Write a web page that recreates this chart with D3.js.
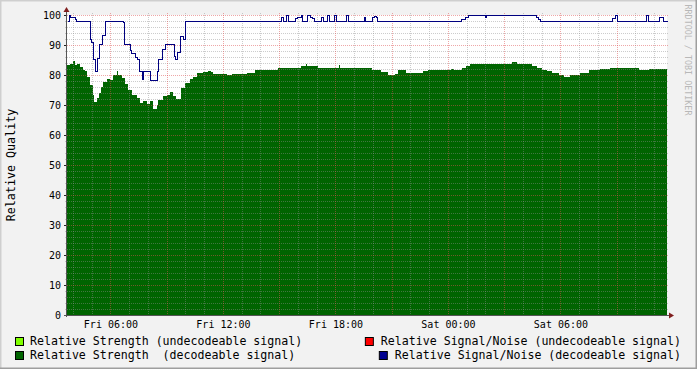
<!DOCTYPE html>
<html>
<head>
<meta charset="utf-8">
<script src="https://cdn.jsdelivr.net/npm/d3@7"></script>
<style>
body { margin: 0; background: #f2f2f2; }
svg { display: block; }
text { font-family: "DejaVu Sans Mono", monospace; }
</style>
</head>
<body>
<script>
// time window shown on the graph (32h)
var startTime = 'Fri 03:41'
var endTime = 'Sat 11:41'

// Relative Strength (decodeable signal), step values
var strengthTimes = ['Fri 03:41', 'Fri 03:51', 'Fri 04:00', 'Fri 04:07', 'Fri 04:13', 'Fri 04:23', 'Fri 04:32',
    'Fri 04:39', 'Fri 04:45', 'Fri 04:55', 'Fri 05:04', 'Fri 05:07', 'Fri 05:17', 'Fri 05:23', 'Fri 05:30',
    'Fri 05:36', 'Fri 05:49', 'Fri 05:59', 'Fri 06:08', 'Fri 06:21', 'Fri 06:24', 'Fri 06:37', 'Fri 06:47',
    'Fri 06:56', 'Fri 07:09', 'Fri 07:19', 'Fri 07:25', 'Fri 07:35', 'Fri 07:44', 'Fri 07:57', 'Fri 08:07',
    'Fri 08:16', 'Fri 08:29', 'Fri 08:32', 'Fri 08:48', 'Fri 09:01', 'Fri 09:11', 'Fri 09:20', 'Fri 09:30',
    'Fri 09:46', 'Fri 09:59', 'Fri 10:15', 'Fri 10:24', 'Fri 10:37', 'Fri 10:56', 'Fri 11:12', 'Fri 11:22',
    'Fri 11:28', 'Fri 12:13', 'Fri 12:29', 'Fri 12:55', 'Fri 13:17', 'Fri 13:43', 'Fri 13:52', 'Fri 14:56',
    'Fri 15:28', 'Fri 16:10', 'Fri 16:26', 'Fri 16:29', 'Fri 17:04', 'Fri 18:11', 'Fri 18:14', 'Fri 19:06',
    'Fri 19:57', 'Fri 20:26', 'Fri 20:48', 'Fri 21:11', 'Fri 21:20', 'Fri 21:46', 'Fri 22:40', 'Fri 22:56',
    'Sat 00:10', 'Sat 00:19', 'Sat 00:45', 'Sat 00:58', 'Sat 01:11', 'Sat 03:25', 'Sat 03:41', 'Sat 04:29',
    'Sat 04:45', 'Sat 05:01', 'Sat 05:17', 'Sat 05:33', 'Sat 05:55', 'Sat 06:11', 'Sat 06:31', 'Sat 07:03',
    'Sat 07:31', 'Sat 08:07', 'Sat 08:39', 'Sat 10:11', 'Sat 10:43']
var strengthValues = [83.2, 83.8, 84.6, 83.3, 83.6, 82.6, 81.7,
    81.3, 79.3, 76.7, 73.3, 71, 72.5, 74, 75.9,
    77.6, 78.6, 78.3, 79.9, 81.3, 79.9, 79, 77,
    75.1, 73.4, 73.3, 72.5, 70.6, 71.4, 70.3, 71.2,
    68.7, 70.1, 71.7, 72.9, 73.5, 74.5, 72.9, 72.1,
    75.6, 77.3, 78.7, 79.5, 80.6, 81, 81.3, 81,
    80.3, 79.9, 80.5, 80.3, 80.6, 81.6, 81.7, 82.3,
    82.5, 82.9, 83.6, 82.9, 82.5, 83.3, 82.5, 82.5,
    81.7, 81, 79.9, 80.5, 81.7, 80.6, 81.2, 81.7,
    82.1, 81.7, 82.5, 82.9, 83.6, 84.5, 83.6, 83,
    82.5, 81.7, 81.2, 80.6, 79.9, 79.5, 79.9, 80.6,
    81.6, 82.1, 82.5, 81.7, 81.9]

// Relative Signal/Noise (decodeable signal), step values
var snrTimes = ['Fri 03:41', 'Fri 03:47', 'Fri 03:51', 'Fri 04:07', 'Fri 04:10', 'Fri 04:55', 'Fri 04:58',
    'Fri 05:04', 'Fri 05:11', 'Fri 05:17', 'Fri 05:23', 'Fri 05:33', 'Fri 05:43', 'Fri 06:40', 'Fri 06:43',
    'Fri 07:03', 'Fri 07:06', 'Fri 07:12', 'Fri 07:19', 'Fri 07:25', 'Fri 07:31', 'Fri 07:41', 'Fri 07:44',
    'Fri 08:07', 'Fri 08:29', 'Fri 08:32', 'Fri 08:45', 'Fri 08:55', 'Fri 09:23', 'Fri 09:27', 'Fri 09:33',
    'Fri 09:43', 'Fri 09:52', 'Fri 09:59', 'Fri 15:06', 'Fri 15:12', 'Fri 15:22', 'Fri 15:28', 'Fri 15:51',
    'Fri 15:57', 'Fri 16:10', 'Fri 16:13', 'Fri 16:29', 'Fri 16:39', 'Fri 16:45', 'Fri 16:51', 'Fri 17:14',
    'Fri 17:20', 'Fri 17:33', 'Fri 17:39', 'Fri 17:55', 'Fri 18:02', 'Fri 18:34', 'Fri 18:40', 'Fri 19:31',
    'Fri 19:35', 'Fri 19:57', 'Fri 20:03', 'Fri 20:10', 'Fri 20:13', 'Sat 00:42', 'Sat 00:55', 'Sat 01:04',
    'Sat 01:59', 'Sat 02:02', 'Sat 04:42', 'Sat 04:48', 'Sat 04:55', 'Sat 08:45', 'Sat 08:55', 'Sat 09:01',
    'Sat 10:34', 'Sat 10:40', 'Sat 11:15', 'Sat 11:28']
var snrValues = [98, 100, 99.3, 98.7, 98, 92, 90.9,
    85.3, 81.3, 85.6, 90.3, 93.3, 98, 97.7, 90.3,
    88.5, 87.5, 87.3, 86, 85.3, 81.3, 78.7, 81.3,
    78.3, 81.3, 85.3, 88.7, 90.3, 86.3, 85.5, 87.7,
    93, 92, 98, 99.3, 98, 100, 98, 99,
    99.3, 100, 98, 100, 99.5, 99, 98, 99.3,
    98, 100, 98, 100, 98, 100, 98, 99.3,
    98, 99.3, 99.6, 99.3, 98, 98.6, 99.3, 100,
    99.5, 100, 99.3, 98.6, 98, 99, 100, 98,
    100, 98, 99.3, 98]

var yTicks = [0, 10, 20, 30, 40, 50, 60, 70, 80, 90, 100]

var legendLabels = ['Relative Strength (undecodeable signal)', 'Relative Signal/Noise (undecodeable signal)',
    'Relative Strength  (decodeable signal)', 'Relative Signal/Noise (decodeable signal)']
var legendColors = ['#80ff00', '#ff0000', '#006400', '#000090']

var W = 697, H = 369
var margin = { top: 15, right: 30, bottom: 54, left: 67 }
var width = W - margin.left - margin.right
var height = H - margin.top - margin.bottom

function parseTime(s) {
    var day = s.slice(0, 3) === 'Sat' ? 3 : 2
    var hm = s.slice(4).split(':')
    return new Date(2008, 4, day, +hm[0], +hm[1])
}

function zip(times, values) {
    var rows = times.map(function(t, i) { return { t: parseTime(t), v: values[i] } })
    rows.push({ t: parseTime(endTime), v: values[values.length - 1] })
    return rows
}

var svg = d3.select('body').append('svg')
    .attr('width', W)
    .attr('height', H)

// background and 3d border
svg.append('rect').attr('width', W).attr('height', H).attr('fill', '#f2f2f2')
svg.append('path').attr('d', 'M0,' + H + 'V0H' + W).attr('fill', 'none')
    .attr('stroke', '#cfcfcf').attr('stroke-width', 3)
svg.append('path').attr('d', 'M0,' + H + 'H' + W + 'V0').attr('fill', 'none')
    .attr('stroke', '#9e9e9e').attr('stroke-width', 3)

var g = svg.append('g').attr('transform', 'translate(' + margin.left + ',' + margin.top + ')')

var x = d3.scaleTime()
    .domain([parseTime(startTime), parseTime(endTime)])
    .range([0, width])
var y = d3.scaleLinear()
    .domain([0, 100])
    .range([height, 0])

g.append('rect').attr('width', width).attr('height', height).attr('fill', '#fff')

var strength = zip(strengthTimes, strengthValues)
var snr = zip(snrTimes, snrValues)

var area = d3.area()
    .curve(d3.curveStepAfter)
    .x(function(d) { return x(d.t) })
    .y0(y(0))
    .y1(function(d) { return y(d.v) })

g.append('path')
    .datum(strength)
    .attr('fill', '#006400')
    .attr('shape-rendering', 'crispEdges')
    .attr('d', area)

// grid, drawn on top like rrdtool does
var grid = g.append('g').attr('shape-rendering', 'crispEdges')
var minorY = d3.range(0, 101, 2).filter(function(v) { return v % 10 })
var minorX = x.ticks(d3.timeHour.every(1)).filter(function(d) { return d.getHours() % 3 })
var majorX = x.ticks(d3.timeHour.every(3))
var minorColor = 'rgba(143,143,143,0.45)'
var majorColor = 'rgba(222,79,79,0.5)'

grid.selectAll('.hmin').data(minorY).enter().append('line')
    .attr('x1', -2).attr('x2', width + 2)
    .attr('y1', function(d) { return Math.round(y(d)) + 0.5 })
    .attr('y2', function(d) { return Math.round(y(d)) + 0.5 })
    .attr('stroke', minorColor).attr('stroke-dasharray', '1,1')
grid.selectAll('.vmin').data(minorX).enter().append('line')
    .attr('y1', -2).attr('y2', height + 2)
    .attr('x1', function(d) { return Math.round(x(d)) + 0.5 })
    .attr('x2', function(d) { return Math.round(x(d)) + 0.5 })
    .attr('stroke', minorColor).attr('stroke-dasharray', '1,1')
grid.selectAll('.hmaj').data(yTicks).enter().append('line')
    .attr('x1', -2).attr('x2', width + 2)
    .attr('y1', function(d) { return Math.round(y(d)) + 0.5 })
    .attr('y2', function(d) { return Math.round(y(d)) + 0.5 })
    .attr('stroke', majorColor).attr('stroke-dasharray', '1,1')
grid.selectAll('.vmaj').data(majorX).enter().append('line')
    .attr('y1', -2).attr('y2', height + 2)
    .attr('x1', function(d) { return Math.round(x(d)) + 0.5 })
    .attr('x2', function(d) { return Math.round(x(d)) + 0.5 })
    .attr('stroke', majorColor).attr('stroke-dasharray', '1,1')

var line = d3.line()
    .curve(d3.curveStepAfter)
    .x(function(d) { return Math.round(x(d.t)) + 0.5 })
    .y(function(d) { return Math.round(y(d.v)) + 0.5 })

g.append('path')
    .datum(snr)
    .attr('fill', 'none')
    .attr('stroke', '#000080')
    .attr('stroke-width', 1)
    .attr('shape-rendering', 'crispEdges')
    .attr('d', line)

// axes
var yAxis = g.append('g')
    .call(d3.axisLeft(y).tickValues(yTicks).tickSize(3).tickPadding(3).tickSizeOuter(0))
yAxis.select('.domain').remove()
yAxis.selectAll('line').attr('stroke', '#1f1f1f')
yAxis.selectAll('text').attr('font-size', 10).attr('fill', '#000')
    .style('font-family', '"DejaVu Sans Mono", monospace')

var xAxis = g.append('g')
    .attr('transform', 'translate(0,' + height + ')')
    .call(d3.axisBottom(x).ticks(d3.timeHour.every(6)).tickFormat(d3.timeFormat('%a %H:%M'))
        .tickSize(0).tickPadding(6).tickSizeOuter(0))
xAxis.select('.domain').remove()
xAxis.selectAll('text').attr('font-size', 10).attr('fill', '#000')
    .style('font-family', '"DejaVu Sans Mono", monospace')

g.append('line').attr('x1', -0.5).attr('x2', -0.5).attr('y1', -3).attr('y2', height + 2)
    .attr('stroke', '#555')
g.append('line').attr('x1', -3).attr('x2', width + 3).attr('y1', height + 0.5).attr('y2', height + 0.5)
    .attr('stroke', '#555')
g.append('path').attr('d', 'M-3.5,-3L-0.5,-8L2.5,-3Z').attr('fill', '#801f1f')
g.append('path').attr('d', 'M' + (width + 2) + ',' + (height - 2.5) + 'L' + (width + 7) + ',' + (height + 0.5)
    + 'L' + (width + 2) + ',' + (height + 3.5) + 'Z').attr('fill', '#801f1f')

// y label
svg.append('text')
    .attr('transform', 'translate(15,165) rotate(-90)')
    .attr('text-anchor', 'middle')
    .attr('font-size', 11.7)
    .attr('fill', '#000')
    .text('Relative Quality')

// watermark
svg.append('text')
    .attr('transform', 'translate(685,60) rotate(90)')
    .attr('text-anchor', 'middle')
    .attr('font-size', 8.4)
    .attr('fill', '#b8b8b8')
    .text('RRDTOOL / TOBI OETIKER')

// legend
var legendPos = [
    { x: 15, y: 337, anchor: 'start' },
    { x: 681, y: 337, anchor: 'end' },
    { x: 15, y: 351, anchor: 'start' },
    { x: 681, y: 351, anchor: 'end' }
]
var legend = svg.append('g')
legendLabels.forEach(function(label, i) {
    var p = legendPos[i]
    var t = legend.append('text')
        .attr('y', p.y + 8)
        .attr('font-size', 11.6)
        .attr('fill', '#000')
        .attr('xml:space', 'preserve')
        .text(label)
    var boxX
    if (p.anchor === 'start') {
        t.attr('x', p.x + 15)
        boxX = p.x
    } else {
        t.attr('x', p.x).attr('text-anchor', 'end')
        boxX = p.x - t.node().getComputedTextLength() - 16
    }
    legend.append('rect')
        .attr('x', boxX + 0.5).attr('y', p.y + 0.5)
        .attr('width', 8).attr('height', 8)
        .attr('fill', legendColors[i])
        .attr('stroke', '#000')
})
</script>
</body>
</html>
